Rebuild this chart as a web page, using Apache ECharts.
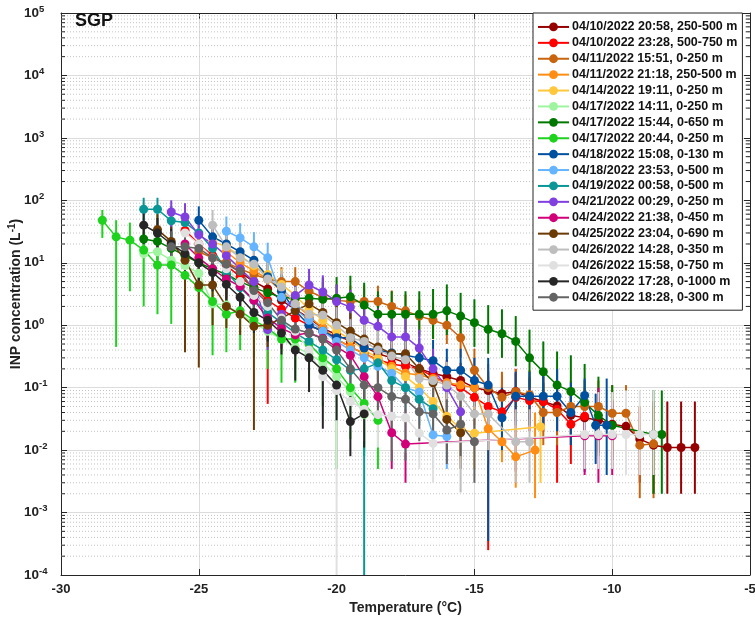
<!DOCTYPE html>
<html><head><meta charset="utf-8">
<script src="https://cdn.jsdelivr.net/npm/echarts@6/dist/echarts.min.js"></script>
<style>html,body{margin:0;padding:0;background:#fff}#c{width:755px;height:622px}</style>
</head><body><div id="c"></div>
<script>
// ---- legend names & colours ----
const names = [
 '04/10/2022 20:58, 250-500 m','04/10/2022 23:28, 500-750 m','04/11/2022 15:51, 0-250 m',
 '04/11/2022 21:18, 250-500 m','04/14/2022 19:11, 0-250 m','04/17/2022 14:11, 0-250 m',
 '04/17/2022 15:44, 0-650 m','04/17/2022 20:44, 0-250 m','04/18/2022 15:08, 0-130 m',
 '04/18/2022 23:53, 0-500 m','04/19/2022 00:58, 0-500 m','04/21/2022 00:29, 0-250 m',
 '04/24/2022 21:38, 0-450 m','04/25/2022 23:04, 0-690 m','04/26/2022 14:28, 0-350 m',
 '04/26/2022 15:58, 0-750 m','04/26/2022 17:28, 0-1000 m','04/26/2022 18:28, 0-300 m'];
const colors = ['#960000','#ff0000','#c8640f','#ff8c14','#ffc83c','#9ff59f','#007800','#1ed21e',
 '#0050a0','#64b4ff','#0a9696','#8040e0','#d20078','#6b3a05','#bebebe','#e0e0e0','#262626','#646464'];

// ---- data: [temperature, INP, lower, upper] ----
const s1 = [[-24,10,5,18],[-23.5,7,3.5,12],[-23,5,2.5,9],[-22.5,3.8,1.8,7],[-22,2.5,1.2,4.5],[-21.5,1.8,0.9,3.2],
 [-21,1.3,0.65,2.4],[-20.5,0.9,0.45,1.7],[-20,0.7,0.35,1.3],[-19.5,0.55,0.27,1.0],[-19,0.45,0.22,0.85],
 [-18.5,0.35,0.17,0.65],[-18,0.3,0.14,0.55],[-17.5,0.25,0.12,0.45],[-17,0.2,0.1,0.38],[-16.5,0.17,0.08,0.32],
 [-16,0.15,0.07,0.28],[-15.5,0.13,0.06,0.25],[-15,0.1,0.045,0.2],[-14.5,0.09,0.04,0.18],[-14,0.08,0.035,0.16],
 [-13.5,0.087,0.04,0.17],[-13,0.07,0.03,0.14],[-12.5,0.06,0.025,0.12],[-12,0.051,0.02,0.1],[-11.5,0.036,0.012,0.08],
 [-11,0.033,0.01,0.075],[-10.5,0.03,0.009,0.07],[-10,0.026,0.007,0.065],[-9.5,0.024,0.006,0.06],[-9,0.015,0.003,0.05],
 [-8.5,0.012,0.002,0.06],[-8,0.011,0.002,0.06],[-7.5,0.011,0.002,0.06],[-7,0.011,0.002,0.06]];
const s2 = [[-25.5,33,18,55],[-25,20,10,35],[-24.5,13,6.5,24],[-24,9,4.5,16],[-23.5,6,3,11],[-23,4,2,7.5],
 [-22.5,2.5,0.055,5],[-22,1.8,0.8,3.5],[-21.5,1.3,0.6,2.5],[-21,1.0,0.45,2],[-20.5,0.8,0.35,1.6],[-20,0.6,0.28,1.2],
 [-19.5,0.45,0.2,0.9],[-19,0.35,0.15,0.7],[-18.5,0.28,0.12,0.55],[-18,0.24,0.1,0.5],[-17.5,0.22,0.09,0.45],
 [-17,0.2,0.08,0.42],[-16.5,0.15,0.06,0.32],[-16,0.12,0.05,0.27],[-15.5,0.1,0.04,0.22],[-15,0.07,0.025,0.17],
 [-14.5,0.05,0.00025,0.15],[-14,0.041,0.012,0.12],[-13.5,0.07,0.0045,0.2],[-13,0.062,0.02,0.15],[-12.5,0.06,0.02,0.15],
 [-12,0.045,0.003,0.2],[-11.5,0.026,0.006,0.08],[-11,0.035,0.01,0.1]];
const s3 = [[-25,15,8,26],[-24.5,12,6,21],[-24,10,5,17],[-23.5,8,4,14],[-23,6.5,3.3,11],[-22.5,5.5,2.8,9.5],
 [-22,5,2.6,8.5],[-21.5,5,2.6,8.5],[-21,3.5,1.8,6],[-20.5,2.8,1.4,5],[-20,2.5,1.3,4.5],[-19.5,2.4,1.2,4.3],
 [-19,2.4,1.2,4.3],[-18.5,2.4,1.2,4.3],[-18,2.0,1.0,3.6],[-17.5,1.7,0.85,3.1],[-17,1.4,0.7,2.6],[-16.5,1.2,0.6,2.3],
 [-16,1.0,0.5,2.0],[-15.5,0.63,0.3,1.3],[-15,0.19,0.08,0.42],[-14.5,0.1,0.04,0.24],[-14,0.07,0.025,0.18],
 [-13.5,0.086,0.03,0.2],[-13,0.077,0.025,0.19],[-12.5,0.04,0.012,0.11],[-12,0.04,0.012,0.11],[-11.5,0.05,0.015,0.13],
 [-11,0.05,0.015,0.13],[-10.5,0.05,0.015,0.13],[-10,0.039,0.01,0.11],[-9.5,0.039,0.01,0.11],[-9,0.012,0.0017,0.05],
 [-8.5,0.0126,0.0017,0.05]];
const s4 = [[-24,15,8,26],[-23.5,10,5,18],[-23,7.5,3.8,13],[-22.5,5.5,2.8,10],[-22,3.5,1.8,6.5],[-21.5,2.2,1.1,4],
 [-21,1.4,0.7,2.6],[-20.5,0.9,0.45,1.7],[-20,0.6,0.3,1.15],[-19.5,0.45,0.22,0.85],[-19,0.35,0.17,0.68],
 [-18.5,0.27,0.13,0.52],[-18,0.22,0.1,0.43],[-17.5,0.17,0.08,0.34],[-17,0.16,0.075,0.32],[-16.5,0.14,0.065,0.28],
 [-16,0.12,0.055,0.25],[-15.5,0.11,0.05,0.23],[-15,0.1,0.045,0.21],[-14.5,0.022,0.006,0.06],[-14,0.0136,0.0064,0.035],
 [-13.5,0.0078,0.0025,0.025],[-12.8,0.01,0.0017,0.04]];
const s5 = [[-24.5,22,11,38],[-24,18,9,32],[-23.5,13,6.5,23],[-23,9,4.5,16],[-22.5,6.5,3.2,12],[-22,4.5,2.2,8],
 [-21.5,3,1.5,5.5],[-21,1.8,0.9,3.3],[-20.5,1.2,0.6,2.2],[-20,0.8,0.4,1.5],[-19.5,0.6,0.3,1.1],[-19,0.4,0.2,0.75],
 [-18.5,0.3,0.14,0.57],[-18,0.2,0.09,0.4],[-17.5,0.15,0.07,0.3],[-17,0.1,0.045,0.21],[-16.5,0.06,0.025,0.13],
 [-16,0.035,0.013,0.08],[-15.5,0.022,0.007,0.06],[-15,0.0187,0.005,0.05],[-12.6,0.0237,0.003,0.073]];
const s6 = [[-27,14,7,25],[-26.5,15,7.5,26],[-26,11,5.5,20],[-25.5,9,4.5,16],[-25,6.8,3.4,12],[-24.5,2.2,1.0,4.2],
 [-24,2.1,1.0,4],[-23.5,1.5,0.7,2.9],[-23,1.1,0.5,2.1],[-22.5,0.8,0.38,1.55],[-22,0.6,0.28,1.2],[-21.5,0.45,0.2,0.9],
 [-21,0.35,0.15,0.7],[-20.5,0.25,0.1,0.52],[-20,0.15,0.06,0.33],[-19.5,0.086,0.03,0.2],[-19,0.037,0.01,0.1]];
const s7 = [[-27,24,12,42],[-26.5,22,11,38],[-26,17,8.5,30],[-25.5,13,6.5,23],[-25,10,5,18],[-24.5,8,4,14],
 [-24,6.5,3.2,11.5],[-23.5,5,2.5,9],[-23,4,2,7.2],[-22.5,3.3,1.6,6],[-22,2.8,1.3,5.5],[-21.5,2.7,1.3,5.8],
 [-21,2.7,1.3,5.8],[-20.5,2.6,1.2,5.8],[-20,2.7,1.3,5.9],[-19.5,2.85,1.3,6.2],[-19,2.1,0.95,4.8],[-18.5,1.5,0.65,3.5],
 [-18,1.5,0.65,3.5],[-17.5,1.5,0.65,3.5],[-17,1.5,0.65,3.5],[-16.5,1.5,0.6,3.8],[-16,1.7,0.7,4.5],[-15.5,1.4,0.6,3.3],
 [-15,1.1,0.45,2.6],[-14.5,0.86,0.35,2.1],[-14,0.73,0.3,1.8],[-13.5,0.55,0.22,1.4],[-13,0.3,0.1,0.85],
 [-12.5,0.18,0.06,0.55],[-12,0.11,0.03,0.38],[-11.5,0.087,0.022,0.33],[-11,0.058,0.014,0.24],[-10.5,0.036,0.008,0.15],
 [-10,0.025,0.005,0.11],[-8.5,0.0178,0.002,0.09],[-8.2,0.0178,0.002,0.09]];
const s8 = [[-28.5,48,25,70],[-28,26,0.45,48],[-27.5,23,3.5,44],[-27,16,2.0,30],[-26.5,9.2,1.5,20],[-26,9.2,1.05,20],
 [-25.5,6.3,0.37,14],[-25,4,0.8,9],[-24.5,2.4,0.33,6],[-24,1.5,0.37,4],[-23.5,1.7,0.4,4.2],[-23,1.2,0.3,3],
 [-22.5,0.9,0.2,2.4],[-22,0.6,0.12,1.6],[-21.5,0.6,0.12,1.6],[-21,0.5,0.1,1.4],[-20.5,0.3,0.05,0.9],[-20,0.2,0.005,0.7],
 [-19.5,0.1,0.015,0.35],[-19,0.056,0.008,0.2],[-18.5,0.03,0.005,0.1]];
const s9 = [[-25,48,25,80],[-24.5,26,13,45],[-24,20,10,35],[-23.5,15,7.5,26],[-23,11,5.5,19],[-22.5,6,3,11],
 [-22,3.5,1.7,6.5],[-21.5,1.7,0.8,3.2],[-21,1.0,0.48,1.95],[-20.5,0.8,0.38,1.55],[-20,0.63,0.3,1.25],[-19.5,0.63,0.3,1.25],
 [-19,0.43,0.2,0.85],[-18.5,0.4,0.18,0.8],[-18,0.36,0.16,0.72],[-17.5,0.33,0.15,0.68],[-17,0.3,0.13,0.62],
 [-16.5,0.27,0.12,0.58],[-16,0.19,0.08,0.42],[-15.5,0.19,0.08,0.42],[-15,0.13,0.05,0.3],[-14.5,0.11,0.00035,0.3],
 [-14,0.033,0.01,0.1],[-13.5,0.073,0.025,0.18],[-13,0.073,0.025,0.18],[-12.5,0.073,0.025,0.18],[-12,0.073,0.02,0.2],
 [-11.5,0.04,0.012,0.12],[-11,0.075,0.0045,0.14],[-10.6,0.025,0.006,0.08],[-10.2,0.025,0.004,0.14]];
const s10 = [[-24,32,16,55],[-23.5,25,12,43],[-23,18,9,31],[-22.5,12,6,21],[-22,2.8,1.3,5.5],[-21.5,1.8,0.85,3.5],
 [-21,1.2,0.55,2.4],[-20.5,0.8,0.37,1.6],[-20,0.55,0.25,1.1],[-19.5,0.4,0.18,0.8],[-19,0.3,0.13,0.62],
 [-18.5,0.22,0.09,0.47],[-18,0.17,0.07,0.37],[-17.5,0.1,0.04,0.23],[-17,0.085,0.033,0.2],[-16.5,0.0175,0.005,0.05],
 [-16,0.0165,0.005,0.05]];
const s11 = [[-27,72,40,110],[-26.5,72,40,110],[-26,47,25,80],[-25.5,44,23,75],[-25,30,15,52],[-24.5,17,8.5,30],
 [-24,7.2,3.5,13],[-23.5,4,2,7.5],[-23,2.5,1.2,4.7],[-22.5,1.6,0.75,3],[-22,1.1,0.5,2.1],[-21.5,0.75,0.35,1.45],
 [-21,0.55,0.25,1.1],[-20.5,0.4,0.18,0.8],[-20,0.28,0.12,0.58],[-19.5,0.19,0.08,0.42],[-19,0.2,0.00001,0.45],
 [-18.5,0.25,0.11,0.52],[-18,0.13,0.055,0.29],[-17.5,0.1,0.04,0.23],[-17,0.065,0.025,0.16],[-16.5,0.046,0.017,0.12]];
const s12 = [[-26,65,35,100],[-25.5,54,28,90],[-25,28,14,48],[-24.5,20,10,35],[-24,13,6.5,23],[-23.5,8,4,14],
 [-23,5,2.5,9],[-22.5,0.85,0.4,1.6],[-22,1.5,0.7,2.8],[-21.5,3,1.5,5.5],[-21,4.4,2.2,8],[-20.5,3.4,1.7,6.3],
 [-20,2.4,1.2,4.5],[-19.5,1.95,0.95,3.7],[-19,1.2,0.58,2.3],[-18.5,0.96,0.45,1.85],[-18,0.65,0.3,1.3],
 [-17.5,0.65,0.3,1.3],[-17,0.43,0.2,0.85],[-16.5,0.2,0.09,0.42],[-16,0.1,0.04,0.23],[-15.5,0.041,0.015,0.11]];
const s13 = [[-25.5,20,10,35],[-25,12,6,21],[-24.5,8,4,14],[-24,5.5,2.7,9.8],[-23.5,4.2,2.1,7.5],[-23,2.5,1.2,4.6],
 [-22.5,1.3,0.62,2.5],[-22,0.9,0.42,1.75],[-21.5,0.7,0.32,1.38],[-21,0.75,0.35,1.45],[-20.5,0.62,0.28,1.22],
 [-20,0.45,0.2,0.9],[-19.5,0.33,0.14,0.68],[-19,0.15,0.06,0.33],[-18.5,0.072,0.025,0.18],[-18,0.019,0.005,0.06],
 [-17.5,0.0125,0.003,0.045],[-11,0.017,0.004,0.06],[-10.5,0.017,0.003,0.1],[-10,0.017,0.004,0.06]];
const s14 = [[-26.5,34,17,60],[-26,22,11,38],[-25.5,11,0.37,20],[-25,4.4,0.21,9],[-24.5,4.4,1.0,9],[-24,2,0.9,3.8],
 [-23.5,1.5,0.7,2.9],[-23,0.96,0.021,2.0],[-22.5,1.0,0.45,1.9],[-22,1.3,0.6,2.5],[-21.5,1.7,0.8,3.2],[-21,2.2,1.05,4.2],
 [-20.5,1.6,0.75,3.1],[-20,1.1,0.5,2.1],[-19.5,0.8,0.36,1.55],[-19,0.6,0.27,1.18],[-18.5,0.45,0.2,0.9],
 [-18,0.35,0.15,0.7],[-17.5,0.35,0.15,0.7],[-17,0.2,0.085,0.42],[-16.5,0.12,0.05,0.27],[-16,0.031,0.01,0.085],
 [-15.5,0.019,0.005,0.06]];
const s15 = [[-24.5,40,20,70],[-24,18,9,32],[-23.5,12,6,21],[-23,9.5,4.7,17],[-22.5,5.5,2.7,10],[-22,4.1,2,7.5],
 [-21.5,2.2,1.05,4.1],[-21,1.5,0.7,2.85],[-20.5,1.45,0.68,2.8],[-20,1.0,0.46,1.95],[-19.5,0.63,0.28,1.25],
 [-19,0.55,0.25,1.1],[-18.5,0.4,0.17,0.82],[-18,0.32,0.14,0.66],[-17.5,0.28,0.12,0.58],[-17,0.14,0.055,0.32],
 [-16.5,0.13,0.05,0.3],[-16,0.11,0.04,0.26],[-15.5,0.073,0.0021,0.2],[-15,0.038,0.01,0.11],[-14.5,0.038,0.01,0.11],
 [-13.5,0.0136,0.003,0.045],[-13,0.0136,0.003,0.045]];
const s16 = [[-25.5,30,15,52],[-25,20,10,35],[-24.5,12,6,21],[-24,8,4,14],[-23.5,5,2.5,9],[-23,3,1.5,5.5],
 [-22.5,2,0.95,3.8],[-22,1.3,0.6,2.5],[-21.5,0.8,0.37,1.55],[-21,0.4,0.18,0.8],[-20.5,0.15,0.06,0.33],
 [-20,0.09,0.00001,0.22],[-19.5,0.06,0.02,0.16],[-19,0.045,0.014,0.13],[-18.5,0.037,0.011,0.11],[-18,0.035,0.01,0.1],
 [-17.5,0.033,0.009,0.1],[-17,0.0187,0.005,0.06],[-16.5,0.0128,0.003,0.045],[-11,0.0178,0.005,0.085],
 [-10.5,0.0178,0.005,0.085],[-10,0.0178,0.005,0.085],[-9.5,0.0178,0.004,0.09],[-9,0.0178,0.004,0.09],
 [-8.5,0.0178,0.004,0.09]];
const s17 = [[-27,40,20,70],[-26.5,30,15,52],[-26,20,10,35],[-25.5,14,7,25],[-25,10,5,18],[-24.5,7,3.5,12.5],
 [-24,4.5,2.2,8],[-23.5,2.8,1.35,5.2],[-23,1.6,0.75,3.0],[-22.5,1.2,0.55,2.3],[-22,0.75,0.34,1.45],[-21.5,0.4,0.13,0.8],
 [-21,0.3,0.085,0.62],[-20.5,0.19,0.022,0.42],[-20,0.11,0.03,0.26],[-19.5,0.0286,0.008,0.08],[-19,0.038,0.011,0.1]];
const s18 = [[-26,18,9,32],[-25.5,18,9,32],[-25,17,8.5,30],[-24.5,12,6,21],[-24,9.5,4.7,17],[-23.5,7.3,3.6,13],
 [-23,3.6,1.8,6.5],[-22.5,2.3,1.1,4.2],[-22,1.2,0.56,2.3],[-21.5,0.87,0.4,1.7],[-21,0.75,0.34,1.45],[-20.5,0.6,0.27,1.2],
 [-20,0.4,0.18,0.8],[-19.5,0.2,0.085,0.43],[-19,0.11,0.045,0.25],[-18.5,0.1,0.04,0.23],[-18,0.072,0.0066,0.18],
 [-17.5,0.065,0.0068,0.17],[-17,0.041,0.014,0.11],[-16.5,0.038,0.012,0.1],[-16,0.021,0.006,0.065],
 [-15.5,0.026,0.008,0.075],[-15,0.0136,0.003,0.045]];
const allSeries = [s1,s2,s3,s4,s5,s6,s7,s8,s9,s10,s11,s12,s13,s14,s15,s16,s17,s18];

// axis ranges / ticks
const xMin = -30, xMax = -5, xStep = 5;
const yMin = 1e-4, yMax = 1e5;
const minorVals = [];
for (let e = -4; e < 5; e++) for (let m = 2; m <= 9; m++) minorVals.push(m * Math.pow(10, e));

const FONT = "'Liberation Sans', Arial, Helvetica, sans-serif";
const chart = echarts.init(document.getElementById('c'), null, {renderer: 'canvas'});

const series = [];
// minor grid lines + minor ticks
series.push({
  type: 'custom', silent: true, z: 1, clip: false,
  data: minorVals.map(v => [xMin, v]),
  encode: {x: 0, y: 1},
  renderItem: function (params, api) {
    const v = api.value(1);
    const a = api.coord([xMin, v]), b = api.coord([xMax, v]);
    return {type: 'group', children: [
      {type: 'line', shape: {x1: a[0], y1: a[1], x2: b[0], y2: b[1]}, style: {stroke: '#c4c4c4', lineWidth: 1, lineDash: [1, 2]}},
      {type: 'line', shape: {x1: a[0], y1: a[1], x2: a[0] + 4, y2: a[1]}, style: {stroke: '#262626', lineWidth: 1}},
      {type: 'line', shape: {x1: b[0] - 4, y1: b[1], x2: b[0], y2: b[1]}, style: {stroke: '#262626', lineWidth: 1}}
    ]};
  }
});

allSeries.forEach((d, i) => {
  const col = colors[i];
  series.push({
    type: 'custom', silent: true, z: 2, clip: true,
    data: d.map(p => [p[0], p[2], p[3]]),
    encode: {x: 0, y: [1, 2]},
    renderItem: function (params, api) {
      const t = api.value(0);
      const a = api.coord([t, api.value(1)]), b = api.coord([t, api.value(2)]);
      return {type: 'line', shape: {x1: a[0], y1: a[1], x2: b[0], y2: b[1]}, style: {stroke: col, lineWidth: 2}};
    }
  });
  series.push({
    type: 'line', name: names[i], z: 2,
    data: d.map(p => [p[0], p[1]]),
    symbol: 'circle', symbolSize: 9, showAllSymbol: true,
    lineStyle: {color: col, width: 1.5},
    itemStyle: {color: col},
    emphasis: {disabled: true}
  });
});

chart.setOption({
  animation: false,
  backgroundColor: '#fff',
  textStyle: {fontFamily: FONT},
  grid: {left: 61, right: 5, top: 13, bottom: 47, containLabel: false, outerBoundsMode: 'none'},
  graphic: [{type: 'text', left: 75, top: 12, z: 100,
    style: {text: 'SGP', font: 'bold 18px ' + FONT, fill: '#111'}}],
  legend: {
    data: names, orient: 'vertical', left: 533, top: 13,
    backgroundColor: '#fff', borderColor: '#262626', borderWidth: 1,
    padding: [6, 5, 5, 4], itemGap: 0, itemWidth: 31, itemHeight: 11,
    textStyle: {fontFamily: FONT, fontSize: 12.5, fontWeight: 'bold', color: '#111', lineHeight: 15.9, padding: [0, 0, 0, -2]},
    selectedMode: false, z: 50
  },
  xAxis: [{
    type: 'value', min: xMin, max: xMax, interval: xStep, position: 'bottom',
    name: 'Temperature (°C)', nameLocation: 'middle', nameGap: 22,
    nameTextStyle: {fontFamily: FONT, fontSize: 14, fontWeight: 'bold', color: '#222'},
    axisLine: {show: true, onZero: false, lineStyle: {color: '#262626', width: 1}},
    axisTick: {show: true, inside: true, length: 6, lineStyle: {color: '#262626'}},
    axisLabel: {fontFamily: FONT, fontSize: 13, fontWeight: 'bold', color: '#222', margin: 8},
    splitLine: {show: true, lineStyle: {color: '#dcdcdc', width: 1}}
  }, {
    type: 'value', min: xMin, max: xMax, interval: xStep, position: 'top',
    axisLine: {show: true, onZero: false, lineStyle: {color: '#262626', width: 1}},
    axisTick: {show: true, inside: true, length: 6, lineStyle: {color: '#262626'}},
    axisLabel: {show: false}, splitLine: {show: false}
  }],
  yAxis: [{
    type: 'log', logBase: 10, min: yMin, max: yMax, splitNumber: 9, position: 'left',
    name: '{n|INP concentration (L}{s|-1}{n|)}', nameLocation: 'middle', nameGap: 36, nameRotate: 90,
    nameMoveOverlap: false,
    nameTextStyle: {rich: {
      n: {fontFamily: FONT, fontSize: 14, fontWeight: 'bold', color: '#222'},
      s: {fontFamily: FONT, fontSize: 10, fontWeight: 'bold', color: '#222', padding: [0, 0, 8, 0]}
    }},
    axisLine: {show: true, onZero: false, lineStyle: {color: '#262626', width: 1}},
    axisTick: {show: true, inside: true, length: 6, lineStyle: {color: '#262626'}},
    axisLabel: {
      margin: 37, align: 'left',
      formatter: function (v) { const e = Math.round(Math.log10(v)); return '{b|10}{s|' + e + '}'; },
      rich: {
        b: {fontFamily: FONT, fontSize: 13.5, fontWeight: 'bold', color: '#222'},
        s: {fontFamily: FONT, fontSize: 9.5, fontWeight: 'bold', color: '#222', padding: [0, 0, 8, 0]}
      }
    },
    splitLine: {show: true, lineStyle: {color: '#dcdcdc', width: 1}}
  }, {
    type: 'log', logBase: 10, min: yMin, max: yMax, splitNumber: 9, position: 'right',
    axisLine: {show: true, onZero: false, lineStyle: {color: '#262626', width: 1}},
    axisTick: {show: true, inside: true, length: 6, lineStyle: {color: '#262626'}},
    axisLabel: {show: false}, splitLine: {show: false}
  }],
  series: series
});
</script></body></html>
